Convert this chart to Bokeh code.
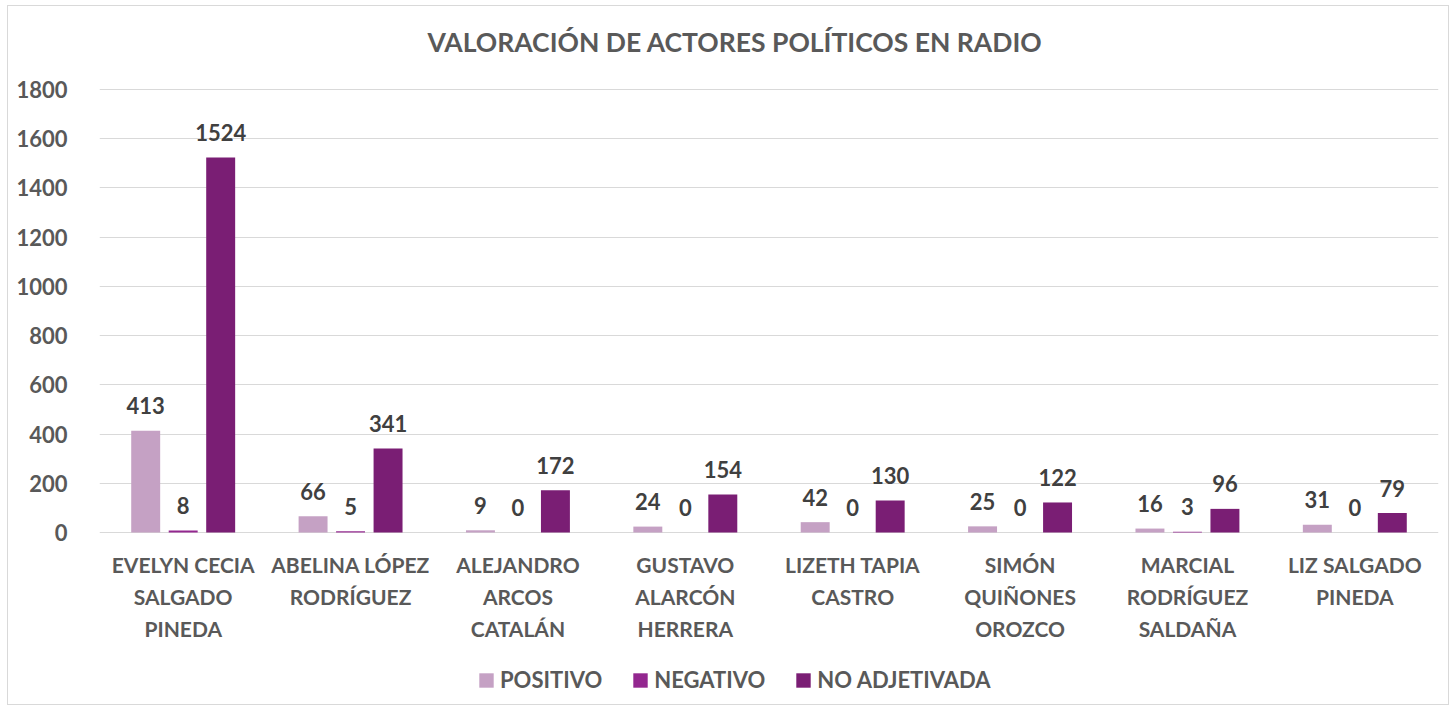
from bokeh.plotting import figure
from bokeh.models import ColumnDataSource, Range1d, FixedTicker, Legend, LegendItem, Label
from bokeh.transform import dodge
from bokeh.embed import file_html
from bokeh.resources import INLINE

names = ["EVELYN CECIA SALGADO PINEDA", "ABELINA LÓPEZ RODRÍGUEZ", "ALEJANDRO ARCOS CATALÁN",
         "GUSTAVO ALARCÓN HERRERA", "LIZETH TAPIA CASTRO", "SIMÓN QUIÑONES OROZCO",
         "MARCIAL RODRÍGUEZ SALDAÑA", "LIZ SALGADO PINEDA"]
tick_labels = ["EVELYN CECIA\nSALGADO\nPINEDA", "ABELINA LÓPEZ\nRODRÍGUEZ", "ALEJANDRO\nARCOS\nCATALÁN",
               "GUSTAVO\nALARCÓN\nHERRERA", "LIZETH TAPIA\nCASTRO", "SIMÓN\nQUIÑONES\nOROZCO",
               "MARCIAL\nRODRÍGUEZ\nSALDAÑA", "LIZ SALGADO\nPINEDA"]
positivo = [413, 66, 9, 24, 42, 25, 16, 31]
negativo = [8, 5, 0, 0, 0, 0, 3, 0]
no_adjetivada = [1524, 341, 172, 154, 130, 122, 96, 79]
series_names = ["POSITIVO", "NEGATIVO", "NO ADJETIVADA"]
y_ticks = [0, 200, 400, 600, 800, 1000, 1200, 1400, 1600, 1800]
colors = ["#C5A1C4", "#93278F", "#7A1E74"]
title_text = "VALORACIÓN DE ACTORES POLÍTICOS EN RADIO"

FONT = "Lato"
GREY = "#595959"

# layout (pixels inside the figure)
FRAME_W, FRAME_H = 1339, 698
TOP_GAP = 83          # frame top -> 1800 gridline
PLOT_H = 443          # 1800 gridline -> 0 axis
units_per_px = 1800 / PLOT_H
y_end = 1800 + TOP_GAP * units_per_px
y_start = -(FRAME_H - TOP_GAP - PLOT_H) * units_per_px

source = ColumnDataSource(dict(
    name=names, label=tick_labels, zero=[0] * len(names),
    pos=positivo, neg=negativo, noadj=no_adjetivada,
    pos_t=[str(v) for v in positivo], neg_t=[str(v) for v in negativo],
    noadj_t=[str(v) for v in no_adjetivada],
))

p = figure(x_range=names, y_range=Range1d(y_start, y_end),
           frame_width=FRAME_W, frame_height=FRAME_H,
           output_backend="svg", toolbar_location=None,
           min_border_left=91, min_border_right=10, min_border_top=0, min_border_bottom=0)
p.styles = {"margin-left": "7px", "margin-top": "5px", "border": "1px solid #D9D9D9"}

p.outline_line_color = None
p.xgrid.grid_line_color = None
p.ygrid.grid_line_color = "#D9D9D9"
p.ygrid.grid_line_width = 1
p.xaxis.visible = False

p.yaxis.ticker = FixedTicker(ticks=y_ticks)
p.yaxis.axis_line_color = None
p.yaxis.major_tick_line_color = None
p.yaxis.minor_tick_line_color = None
p.yaxis.major_label_text_font = FONT
p.yaxis.major_label_text_font_size = "22px"
p.yaxis.major_label_text_font_style = "bold"
p.yaxis.major_label_text_color = GREY
p.yaxis.major_label_standoff = 26

# category labels under the zero line
p.text(x="name", y="zero", text="label", source=source, text_align="center",
       text_baseline="top", y_offset=19, text_line_height=1.28,
       text_font={"value": FONT}, text_font_size="21px", text_font_style="bold",
       text_color=GREY)

offsets = [-0.224, 0.0, 0.224]
cols = ["pos", "neg", "noadj"]
renderers = []
for off, col, c in zip(offsets, cols, colors):
    r = p.vbar(x=dodge("name", off, range=p.x_range), top=col, width=0.173, source=source,
               fill_color=c, line_color=None)
    renderers.append(r)
    p.text(x=dodge("name", off, range=p.x_range), y=col, text=col + "_t", source=source,
           text_align="center", text_baseline="alphabetic", y_offset=-25,
           text_font={"value": FONT}, text_font_size="22px", text_font_style="bold",
           text_color="#404040")

title = Label(x=len(names) / 2, y=1800, x_offset=-34, y_offset=48, text=title_text,
              text_align="center", text_baseline="middle",
              text_font=FONT, text_font_size="26.5px", text_font_style="bold", text_color=GREY)
p.add_layout(title)

legend = Legend(items=[LegendItem(label=n, renderers=[r]) for n, r in zip(series_names, renderers)],
                orientation="horizontal", location=(378, 11))
legend.label_text_font = FONT
legend.label_text_font_size = "22px"
legend.label_text_font_style = "bold"
legend.label_text_color = GREY
legend.glyph_width = 18
legend.glyph_height = 18
legend.label_standoff = 5
legend.spacing = 29
legend.padding = 0
legend.margin = 0
legend.border_line_color = None
legend.background_fill_alpha = 0
p.add_layout(legend, "center")

open("out.html", "w").write(file_html(p, INLINE))
